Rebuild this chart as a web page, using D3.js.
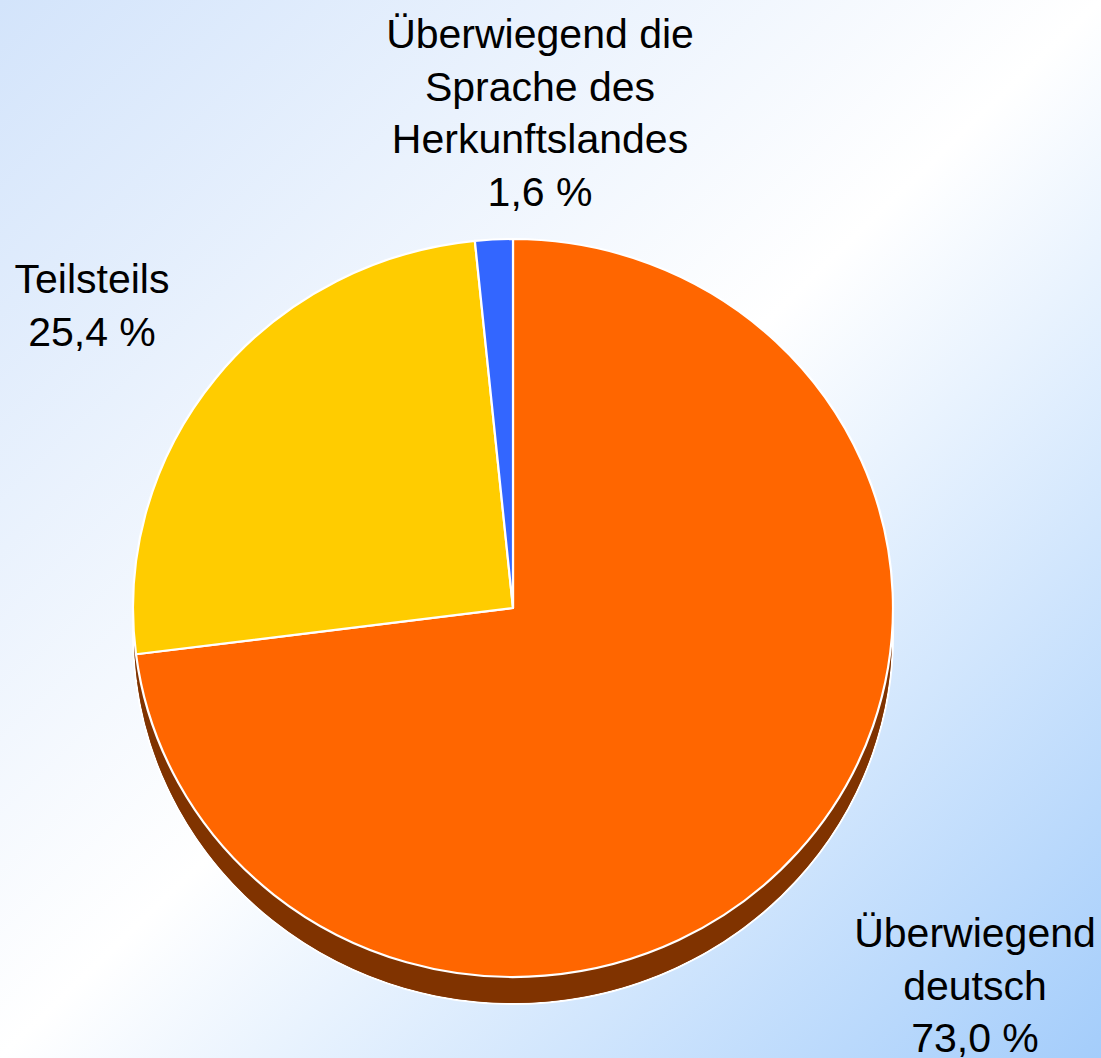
<!DOCTYPE html>
<html>
<head>
<meta charset="utf-8">
<script src="https://cdn.jsdelivr.net/npm/d3@7"></script>
<style>
  html, body { margin: 0; padding: 0; overflow: hidden; }
  svg { display: block; }
</style>
</head>
<body>
<svg id="chart" width="1101" height="1058"></svg>
<script>
// ---- data ----
const categories = ["Überwiegend deutsch", "Teilsteils", "Überwiegend die Sprache des Herkunftslandes"];
const values = [73.0, 25.4, 1.6];
const valueLabels = ["73,0 %", "25,4 %", "1,6 %"];
const labelLines = [
  ["Überwiegend", "deutsch"],
  ["Teilsteils"],
  ["Überwiegend die", "Sprache des", "Herkunftslandes"]
];
const colors = ["#ff6600", "#ffcc00", "#3366ff"];

// ---- layout ----
const W = 1101, H = 1058;
const cx = 513, cy = 608, rx = 380, ry = 369, depth = 27;
const lineH = 52.5;
const fontSize = 41;
// label anchor (center x, first baseline y) per slice
const labelPos = [[975, 947], [92, 293], [540, 48]];

const svg = d3.select("#chart");

// background gradient
const defs = svg.append("defs");
const grad = defs.append("linearGradient").attr("id", "bg")
  .attr("x1", "0").attr("y1", "0").attr("x2", "1").attr("y2", "1");
grad.append("stop").attr("offset", "0").attr("stop-color", "#d3e4fb");
grad.append("stop").attr("offset", "0.5").attr("stop-color", "#ffffff");
grad.append("stop").attr("offset", "1").attr("stop-color", "#a4cdfb");
svg.append("rect").attr("width", W).attr("height", H).attr("fill", "url(#bg)");

const pie = d3.pie().sort(null).value(d => d)
  .startAngle(0).endAngle(2 * Math.PI);
const arcs = pie(values);
const arc = d3.arc().innerRadius(0).outerRadius(rx);

// side wall (extruded)
const wallG = svg.append("g")
  .attr("transform", `translate(${cx},${cy + depth}) scale(1,${ry / rx})`);
wallG.selectAll("path").data(arcs).enter().append("path")
  .attr("d", arc)
  .attr("fill", "#803300")
  .attr("stroke", "#ffffff")
  .attr("stroke-width", 2)
  .attr("vector-effect", "non-scaling-stroke");
wallG.append("ellipse").attr("rx", rx - 1).attr("ry", rx - 1).attr("fill", "#803300");

// top face
const faceG = svg.append("g")
  .attr("transform", `translate(${cx},${cy}) scale(1,${ry / rx})`);
faceG.selectAll("path").data(arcs).enter().append("path")
  .attr("d", arc)
  .attr("fill", (d, i) => colors[i])
  .attr("stroke", "#ffffff")
  .attr("stroke-width", 2.2)
  .attr("stroke-linejoin", "round")
  .attr("vector-effect", "non-scaling-stroke");

// labels
const labG = svg.append("g")
  .attr("font-family", "'Liberation Sans', Arial, sans-serif")
  .attr("font-size", fontSize)
  .attr("fill", "#000")
  .attr("text-anchor", "middle");
arcs.forEach((d, i) => {
  const lines = labelLines[i].concat([valueLabels[i]]);
  const t = labG.append("text").attr("x", labelPos[i][0]).attr("y", labelPos[i][1]);
  lines.forEach((ln, j) => {
    t.append("tspan").attr("x", labelPos[i][0]).attr("y", labelPos[i][1] + j * lineH).text(ln);
  });
});
</script>
</body>
</html>
